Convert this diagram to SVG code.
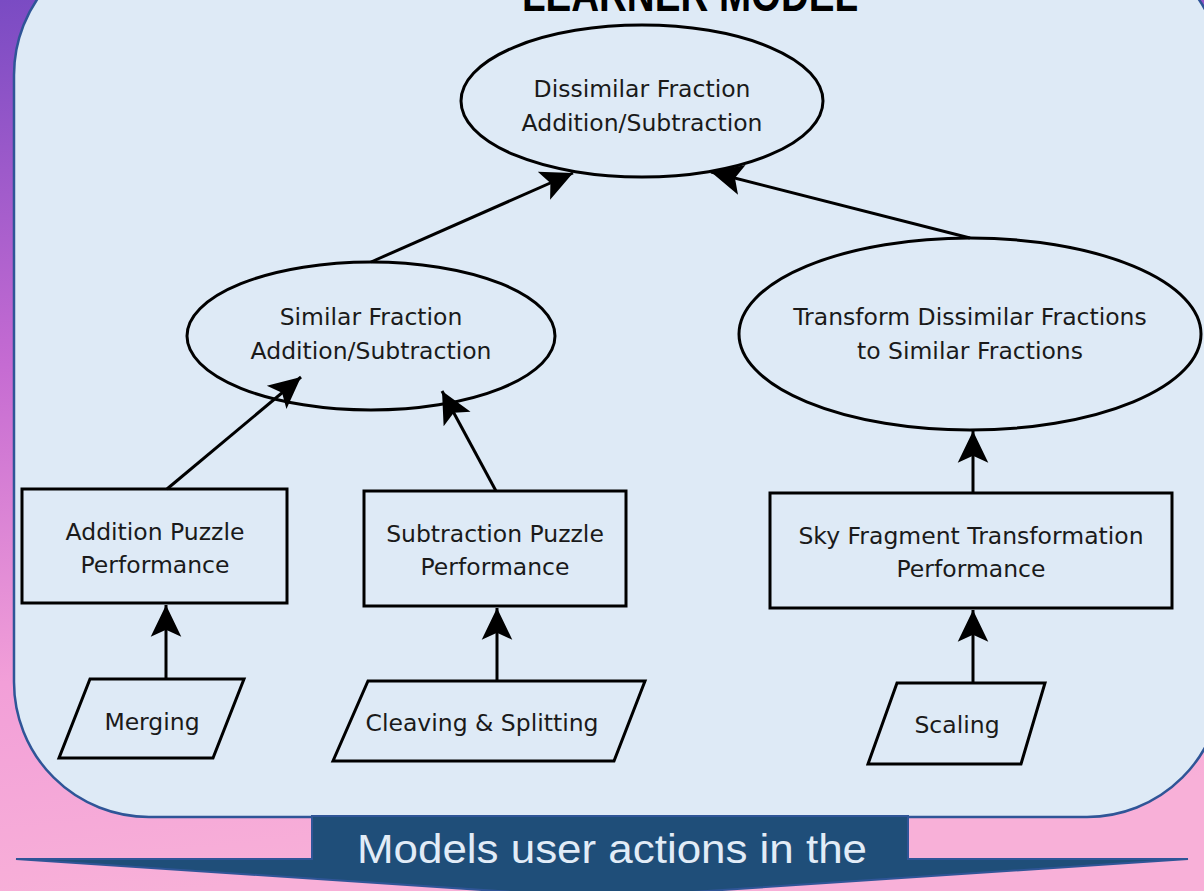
<svg xmlns="http://www.w3.org/2000/svg" width="1204" height="891" viewBox="0 0 1204 891">
<defs>
<linearGradient id="bg" x1="0" y1="0" x2="0.15" y2="1">
<stop offset="0" stop-color="#7a4bc3"/>
<stop offset="0.4" stop-color="#c56bd2"/>
<stop offset="0.75" stop-color="#f29fd8"/>
<stop offset="1" stop-color="#f8b0d8"/>
</linearGradient>
<marker id="ah" markerUnits="userSpaceOnUse" markerWidth="40" markerHeight="40" viewBox="-30 -16 34 32" refX="0" refY="0" orient="auto">
<path d="M0,0 L-27,-13 L-21,0 L-27,13 Z" fill="#000"/>
</marker>
</defs>
<style>
.shape{fill:none;stroke:#000;stroke-width:3}
.lbl{font-family:"DejaVu Sans",Verdana,sans-serif;font-size:23.5px;fill:#1a1a1a;text-anchor:middle}
.conn{stroke:#000;stroke-width:3;fill:none;marker-end:url(#ah)}
</style>
<rect x="0" y="0" width="1204" height="891" fill="url(#bg)"/>
<rect id="panel" x="14" y="-60" width="1208" height="877" rx="135" ry="135" fill="#deeaf6" stroke="#2f5597" stroke-width="2.5"/>
<text id="title" x="690" y="11" font-family="'Liberation Sans',Arial,sans-serif" font-weight="bold" font-size="48" text-anchor="middle" textLength="336" lengthAdjust="spacingAndGlyphs" fill="#000">LEARNER MODEL</text>

<g id="n-dissimilar">
<ellipse class="shape" cx="642" cy="101" rx="181" ry="76"/>
<text class="lbl" x="642" y="97">Dissimilar Fraction</text>
<text class="lbl" x="642" y="131">Addition/Subtraction</text>
</g>
<g id="n-similar">
<ellipse class="shape" cx="371" cy="336" rx="184" ry="74"/>
<text class="lbl" x="371" y="325">Similar Fraction</text>
<text class="lbl" x="371" y="359">Addition/Subtraction</text>
</g>
<g id="n-transform">
<ellipse class="shape" cx="970" cy="334" rx="231" ry="96"/>
<text class="lbl" x="970" y="325">Transform Dissimilar Fractions</text>
<text class="lbl" x="970" y="359">to Similar Fractions</text>
</g>
<g id="n-addition">
<rect class="shape" x="22" y="489" width="265" height="114"/>
<text class="lbl" x="155" y="540">Addition Puzzle</text>
<text class="lbl" x="155" y="573">Performance</text>
</g>
<g id="n-subtraction">
<rect class="shape" x="364" y="491" width="262" height="115"/>
<text class="lbl" x="495" y="542">Subtraction Puzzle</text>
<text class="lbl" x="495" y="575">Performance</text>
</g>
<g id="n-sky">
<rect class="shape" x="770" y="493" width="402" height="115"/>
<text class="lbl" x="971" y="544">Sky Fragment Transformation</text>
<text class="lbl" x="971" y="577">Performance</text>
</g>
<g id="n-merging">
<polygon class="shape" points="90,679 244,679 213,758 59,758"/>
<text class="lbl" x="152" y="730">Merging</text>
</g>
<g id="n-cleaving">
<polygon class="shape" points="368,681 645,681 614,761 333,761"/>
<text class="lbl" x="482" y="731">Cleaving &amp; Splitting</text>
</g>
<g id="n-scaling">
<polygon class="shape" points="897,683 1045,683 1021,764 868,764"/>
<text class="lbl" x="957" y="733">Scaling</text>
</g>

<g id="connectors">
<line class="conn" x1="166" y1="679" x2="166" y2="605"/>
<line class="conn" x1="497" y1="681" x2="497" y2="608"/>
<line class="conn" x1="973" y1="683" x2="973" y2="610"/>
<line class="conn" x1="973" y1="493" x2="973" y2="431"/>
<line class="conn" x1="167" y1="489" x2="301" y2="377"/>
<line class="conn" x1="496" y1="491" x2="442" y2="391"/>
<line class="conn" x1="371" y1="262" x2="573" y2="173"/>
<line class="conn" x1="970" y1="238" x2="711" y2="172"/>
</g>

<g id="banner">
<polygon points="312,816 908,816 908,859 1188,859 602,898 16,859 312,859" fill="#1f4e79" stroke="#2f5597" stroke-width="2"/>
<text x="612" y="863" font-family="'Liberation Sans',Arial,sans-serif" font-size="40" fill="#e2ecf7" text-anchor="middle" textLength="510" lengthAdjust="spacingAndGlyphs">Models user actions in the</text>
</g>
</svg>
